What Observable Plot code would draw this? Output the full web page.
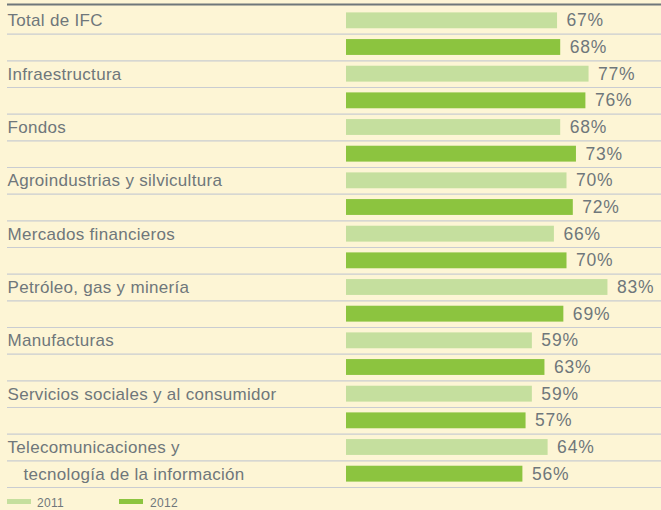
<!DOCTYPE html>
<html>
<head>
<meta charset="utf-8">
<script src="https://cdn.jsdelivr.net/npm/d3@7"></script>
<script src="https://cdn.jsdelivr.net/npm/@observablehq/plot@0.6"></script>
<style>
  html, body { margin: 0; padding: 0; background: #fdf5d5; }
  body { width: 661px; height: 510px; overflow: hidden; font-family: "Liberation Sans", Arial, sans-serif; }
  #chart svg { display: block; }
  #legend { position: relative; height: 20px; color: #6f777b; font-size: 12px; letter-spacing: 0.3px; }
  #legend .sw { position: absolute; top: 9px; width: 24px; height: 5px; }
  #legend .tx { position: absolute; top: 6px; line-height: 14px; }
</style>
</head>
<body>
<div id="chart"></div>
<div id="legend"></div>
<script>
const categories = [
  ["Total de IFC"],
  ["Infraestructura"],
  ["Fondos"],
  ["Agroindustrias y silvicultura"],
  ["Mercados financieros"],
  ["Petróleo, gas y minería"],
  ["Manufacturas"],
  ["Servicios sociales y al consumidor"],
  ["Telecomunicaciones y", "tecnología de la información"]
];
const years = ["2011", "2012"];
const values2011 = [67, 77, 68, 70, 66, 83, 59, 59, 64];
const values2012 = [68, 76, 73, 72, 70, 69, 63, 57, 56];
const colors = ["#c5df9e", "#8cc43f"];

const rows = [];
categories.forEach((lines, i) => {
  [values2011, values2012].forEach((vals, j) => {
    rows.push({
      key: i + "-" + years[j],
      year: years[j],
      value: vals[i],
      line: lines[j] || null,
      second: j === 1
    });
  });
});

const step = 480 / rows.length;
const textColor = "#6f777b";

const chart = Plot.plot({
  width: 661,
  height: 490,
  marginTop: 7,
  marginBottom: 3,
  marginLeft: 7,
  marginRight: 0,
  style: { background: "transparent", fontFamily: "Liberation Sans, Arial, sans-serif" },
  x: { domain: [0, 100], range: [346, 661], axis: null },
  y: { domain: rows.map(d => d.key), padding: 0, round: false, axis: null },
  color: { domain: years, range: colors },
  marks: [
    Plot.ruleY(rows, { y: "key", dy: step / 2, stroke: "#c9ccd1", strokeWidth: 1.2 }),
    Plot.ruleY(rows.slice(0, 1), { y: "key", dy: -step / 2 - 3, stroke: "#6f777b", strokeWidth: 2.2 }),
    Plot.barX(rows, { y: "key", x: "value", fill: "year", insetTop: 5.4, insetBottom: 5.4 }),
    Plot.text(rows, { y: "key", x: "value", text: d => d.value + "%", dx: 9, textAnchor: "start", fill: textColor, fontSize: 17.5 }),
    Plot.text(rows.filter(d => d.line && !d.second), { y: "key", text: "line", frameAnchor: "left", textAnchor: "start", fill: textColor, fontSize: 17 }),
    Plot.text(rows.filter(d => d.line && d.second), { y: "key", text: "line", frameAnchor: "left", textAnchor: "start", dx: 16, fill: textColor, fontSize: 17 })
  ]
});
const textGroups = chart.querySelectorAll('g[aria-label="text"]');
textGroups.forEach((g, i) => g.setAttribute("letter-spacing", i === 0 ? "0.8" : "0.3"));
document.getElementById("chart").appendChild(chart);

const legend = document.getElementById("legend");
const lx = [[7, 37], [119, 150]];
years.forEach((y, i) => {
  const sw = document.createElement("span");
  sw.className = "sw";
  sw.style.left = lx[i][0] + "px";
  sw.style.background = colors[i];
  legend.appendChild(sw);
  const tx = document.createElement("span");
  tx.className = "tx";
  tx.style.left = lx[i][1] + "px";
  tx.textContent = y;
  legend.appendChild(tx);
});
</script>
</body>
</html>
